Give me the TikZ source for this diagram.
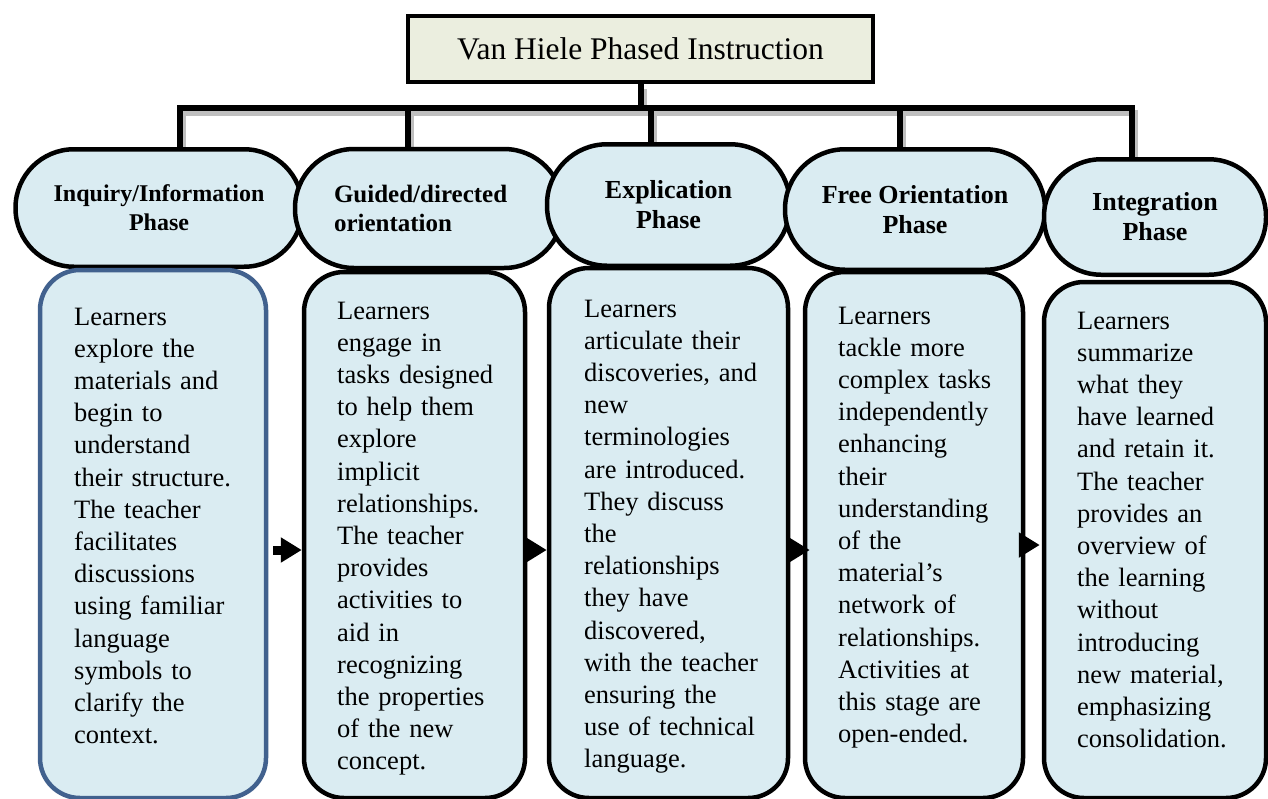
\documentclass[tikz,border=0pt]{standalone}
\usepackage{fontspec}
\setmainfont{Liberation Serif}
\usetikzlibrary{arrows.meta}
\pgfdeclarelayer{background}
\pgfsetlayers{background,main}
\definecolor{phasefill}{HTML}{DAECF2}
\definecolor{titlefill}{HTML}{EBEEDF}
\definecolor{bluebord}{HTML}{41618E}
\tikzset{
  titlebox/.style={draw=black, line width=4pt, fill=titlefill, inner sep=0pt,
    font=\fontsize{31.5}{36}\selectfont},
  phase/.style={draw=black, line width=4.5pt, fill=phasefill,
    font=\bfseries\fontsize{24}{29}\selectfont, align=center, inner sep=0pt},
  bigphase/.style={phase, font=\bfseries\fontsize{26}{30}\selectfont},
  descbox/.style={draw=black, line width=4.5pt, fill=phasefill, rounded corners=40pt, inner sep=0pt},
  desctext/.style={anchor=base west, align=left, text width=200pt, inner sep=0pt,
    font=\fontsize{26.5}{32.2}\selectfont},
  conn/.style={line width=6pt, draw=black, line join=miter},
  connshadow/.style={line width=6pt, draw=black!25, line join=miter,
    transform canvas={shift={(3pt,-5pt)}}},
  flowarrow/.style={line width=9pt, draw=black, -{Triangle[length=21pt,width=24pt]}}
}
\begin{document}
\begin{tikzpicture}[x=1pt,y=-1pt]
\useasboundingbox (0,0) rectangle (1268,798);

% title
\node[titlebox, minimum width=465pt, minimum height=66pt] (title) at (640.5,49) {Van Hiele Phased Instruction};

% phases
\node[phase, minimum width=287pt, minimum height=117.5pt, rounded corners=58.5pt] (p1) at (159,208) {Inquiry/Information\\Phase};
\node[phase, font=\bfseries\fontsize{25}{29}\selectfont, minimum width=268pt, minimum height=119pt, rounded corners=59pt, text width=190pt, align=left] (p2) at (429,208.5) {Guided/directed\\orientation};
\node[bigphase, minimum width=243pt, minimum height=121.5pt, rounded corners=60pt] (p3) at (668.5,205) {Explication\\Phase};
\node[bigphase, minimum width=260pt, minimum height=120.5pt, rounded corners=60pt] (p4) at (915,209.5) {Free Orientation\\Phase};
\node[bigphase, minimum width=222pt, minimum height=115.5pt, rounded corners=57pt] (p5) at (1155,217) {Integration\\Phase};

% bus coordinates
\coordinate (d1) at (180,108);
\coordinate (d2) at (408,108);
\coordinate (d3) at (651,108);
\coordinate (d4) at (900,108);
\coordinate (d5) at (1132,108);

\begin{pgfonlayer}{background}
\fill[white] (0,0) rectangle (1268,798);
% connector shadows
\draw[connshadow] (d1 |- p1.north) -- (d1) -- (d5) -- (d5 |- p5.north);
\draw[connshadow] (title.south) -- (title.south |- d1);
\draw[connshadow] (d2) -- (d2 |- p2.north);
\draw[connshadow] (d3) -- (d3 |- p3.north);
\draw[connshadow] (d4) -- (d4 |- p4.north);
% connectors
\draw[conn] (d1 |- p1.north) -- (d1) -- (d5) -- (d5 |- p5.north);
\draw[conn] (title.south) -- (title.south |- d1);
\draw[conn] (d2) -- (d2 |- p2.north);
\draw[conn] (d3) -- (d3 |- p3.north);
\draw[conn] (d4) -- (d4 |- p4.north);
\end{pgfonlayer}

% description boxes
\node[descbox, draw=bluebord, minimum width=226pt, minimum height=528pt] (b1) at (153,534) {};
\node[descbox, minimum width=221pt, minimum height=526pt] (b2) at (414.5,535) {};
\node[descbox, minimum width=239pt, minimum height=530pt] (b3) at (668.5,533) {};
\node[descbox, minimum width=218pt, minimum height=526pt] (b4) at (914,535) {};
\node[descbox, minimum width=222pt, minimum height=516pt] (b5) at (1155,540) {};

% texts
\node[desctext] (t1) at (74,325) {Learners\\explore the\\materials and\\begin to\\understand\\their structure.\\The teacher\\facilitates\\discussions\\using familiar\\language\\symbols to\\clarify the\\context.};
\node[desctext] (t2) at (337,319) {Learners\\engage in\\tasks designed\\to help them\\explore\\implicit\\relationships.\\The teacher\\provides\\activities to\\aid in\\recognizing\\the properties\\of the new\\concept.};
\node[desctext] (t3) at (584,317) {Learners\\articulate their\\discoveries, and\\new\\terminologies\\are introduced.\\They discuss\\the\\relationships\\they have\\discovered,\\with the teacher\\ensuring the\\use of technical\\language.};
\node[desctext] (t4) at (838,324) {Learners\\tackle more\\complex tasks\\independently\\enhancing\\their\\understanding\\of the\\material's\\network of\\relationships.\\Activities at\\this stage are\\open-ended.};
\node[desctext] (t5) at (1077,329) {Learners\\summarize\\what they\\have learned\\and retain it.\\The teacher\\provides an\\overview of\\the learning\\without\\introducing\\new material,\\emphasizing\\consolidation.};

% arrows
\coordinate (ay) at (0,550);
\coordinate (ay4) at (0,545);
\draw[flowarrow, shorten <=5pt] (b1.east |- ay) -- (b2.west |- ay);
\draw[flowarrow] (b2.east |- ay) -- (b3.west |- ay);
\draw[flowarrow, shorten >=-7pt] (b3.east |- ay) -- (b4.west |- ay);
\draw[flowarrow, shorten >=2pt] (b4.east |- ay4) -- (b5.west |- ay4);
\end{tikzpicture}
\end{document}
